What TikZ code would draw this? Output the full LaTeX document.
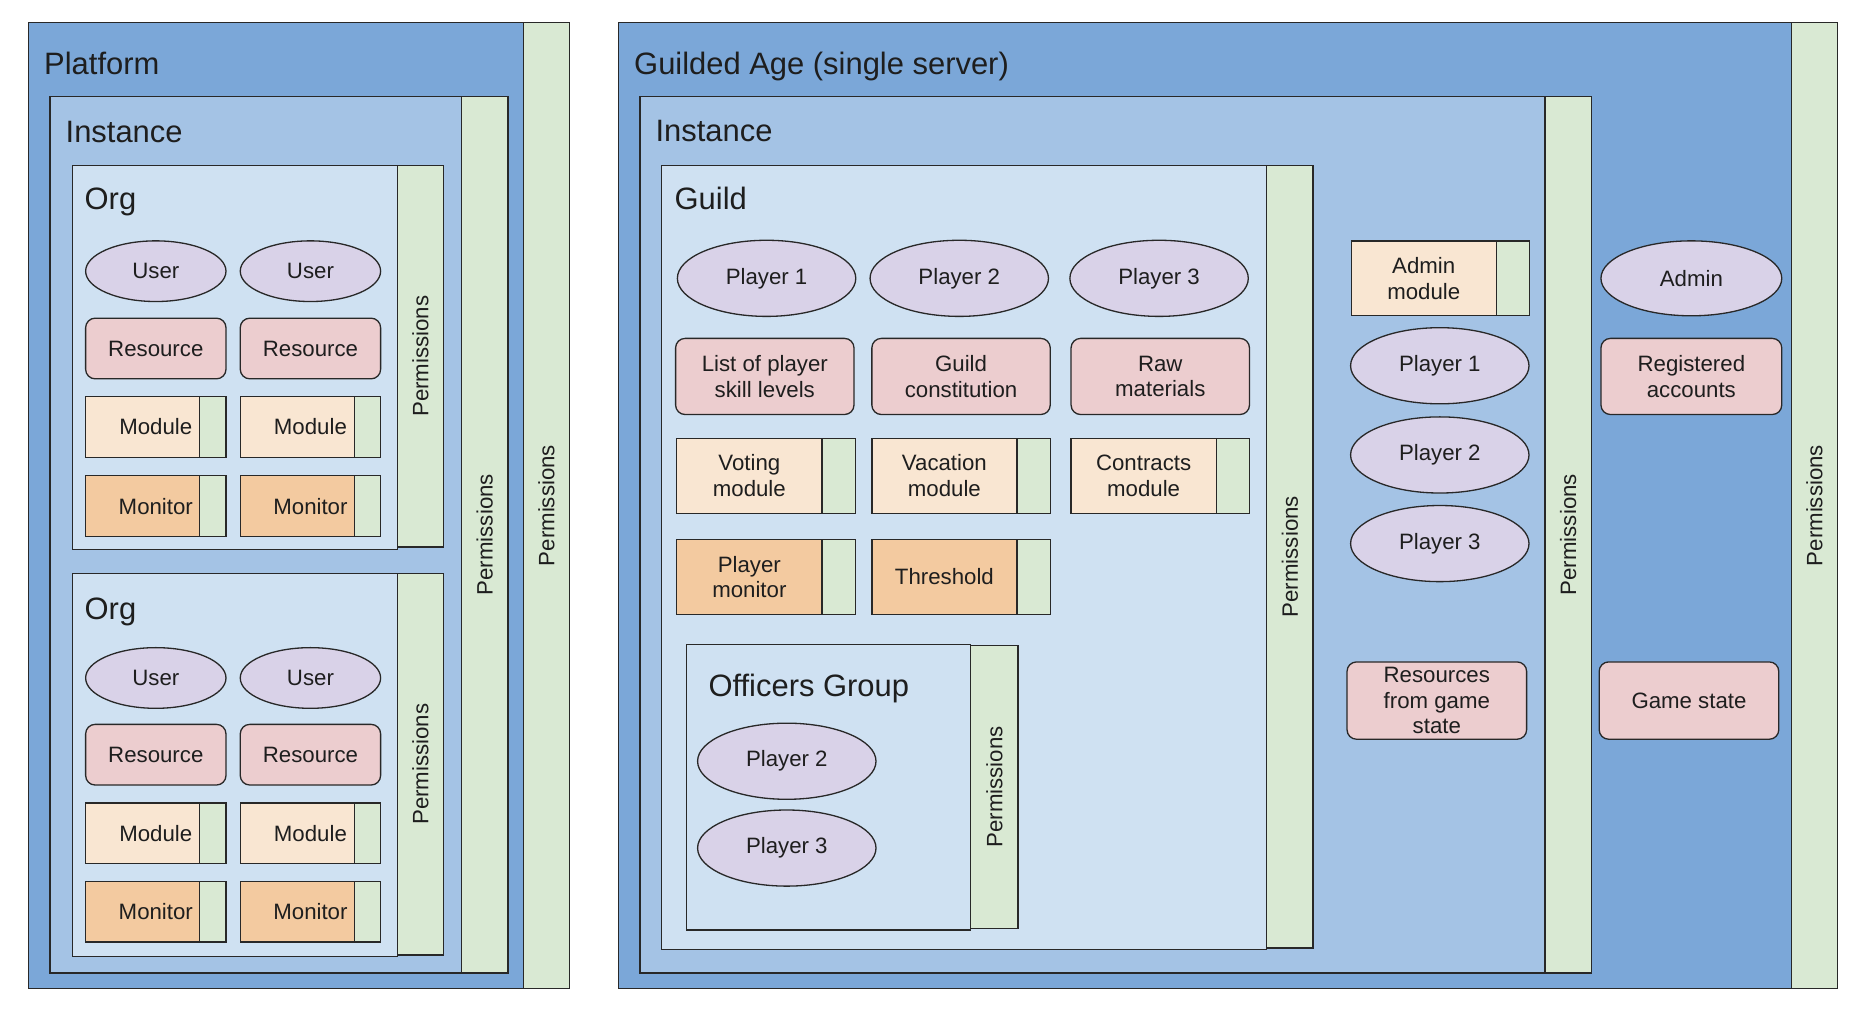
\documentclass[tikz,border=0pt]{standalone}
\usepackage{fontspec}
\setmainfont{Liberation Sans}
\usetikzlibrary{positioning}
\usetikzlibrary{shapes.geometric}
\definecolor{platblue}{RGB}{123,167,216}
\definecolor{instblue}{RGB}{164,195,229}
\definecolor{orgblue}{RGB}{207,225,242}
\definecolor{permgreen}{RGB}{217,233,211}
\definecolor{userpurple}{RGB}{217,210,232}
\definecolor{respink}{RGB}{236,205,207}
\definecolor{modcream}{RGB}{249,230,210}
\definecolor{monorange}{RGB}{243,202,160}
\definecolor{edge}{RGB}{40,40,40}
\definecolor{ink}{RGB}{30,30,30}
\tikzset{
  box/.style={draw=edge, line width=1.1pt, inner sep=0pt, outer sep=0pt, text=ink, align=center, font=\fontsize{18.7}{21.5}\selectfont},
  area/.style={box, anchor=north west},
  perms/.style={box, fill=permgreen, rotate=90, minimum height=39pt},
  heading/.style={inner sep=0pt, text=ink, anchor=base west, font=\fontsize{26}{30}\selectfont},
  user/.style={box, ellipse, fill=userpurple},
  resource/.style={box, rounded corners=8pt, fill=respink},
  module/.style={box, fill=modcream},
  monitor/.style={box, fill=monorange},
  modstrip/.style={box, fill=permgreen},
  small/.style={minimum width=118pt, minimum height=51pt},
  large/.style={minimum width=150pt, minimum height=64pt},
  half/.style={minimum width=122pt, minimum height=63pt},
  tab/.style={minimum width=28pt, minimum height=63pt}
}
\begin{document}
\begin{tikzpicture}[x=1pt, y=-1pt]
\fill[white] (0,0) rectangle (1568,852);
\useasboundingbox (0,0) rectangle (1568,852);

\node[area, fill=platblue, minimum width=416pt, minimum height=812pt] (platform) at (24,19) {};
\node[perms, minimum width=812pt] (platperm) at (459.5,425) {Permissions};
\node[heading] (plattitle) at (37,63) {Platform};
\node[area, fill=instblue, minimum width=346pt, minimum height=737pt] (inst1) at (42,81) {};
\node[perms, minimum width=737pt] (inst1perm) at (407.5,449.5) {Permissions};
\node[heading] (inst1title) at (55,120) {Instance};

\node[area, fill=orgblue, minimum width=273pt, minimum height=323pt] (org1) at (61,139) {};
\node[perms, minimum width=321pt] (org1perm) at (353.5,299.5) {Permissions};
\node[heading] (org1title) at (71,176) {Org};
\node[user, small] (o1user1) at (131,228) {User};
\node[user, small] (o1user2) at (261,228) {User};
\node[resource, small] (o1res1) at (131,293) {Resource};
\node[resource, small] (o1res2) at (261,293) {Resource};
\node[module, small] (o1mod1) at (131,359) {Module};
\node[modstrip, minimum width=22pt, minimum height=51pt, anchor=east] (o1mod1perm) at (o1mod1.east) {};
\node[module, small] (o1mod2) at (261,359) {Module};
\node[modstrip, minimum width=22pt, minimum height=51pt, anchor=east] (o1mod2perm) at (o1mod2.east) {};
\node[monitor, small] (o1mon1) at (131,425.5) {Monitor};
\node[modstrip, minimum width=22pt, minimum height=51pt, anchor=east] (o1mon1perm) at (o1mon1.east) {};
\node[monitor, small] (o1mon2) at (261,425.5) {Monitor};
\node[modstrip, minimum width=22pt, minimum height=51pt, anchor=east] (o1mon2perm) at (o1mon2.east) {};

\node[area, fill=orgblue, minimum width=273pt, minimum height=322pt] (org2) at (61,482) {};
\node[perms, minimum width=321pt] (org2perm) at (353.5,642.5) {Permissions};
\node[heading] (org2title) at (71,521) {Org};
\node[user, small] (o2user1) at (131,570) {User};
\node[user, small] (o2user2) at (261,570) {User};
\node[resource, small] (o2res1) at (131,634.5) {Resource};
\node[resource, small] (o2res2) at (261,634.5) {Resource};
\node[module, small] (o2mod1) at (131,700.5) {Module};
\node[modstrip, minimum width=22pt, minimum height=51pt, anchor=east] (o2mod1perm) at (o2mod1.east) {};
\node[module, small] (o2mod2) at (261,700.5) {Module};
\node[modstrip, minimum width=22pt, minimum height=51pt, anchor=east] (o2mod2perm) at (o2mod2.east) {};
\node[monitor, small] (o2mon1) at (131,766.5) {Monitor};
\node[modstrip, minimum width=22pt, minimum height=51pt, anchor=east] (o2mon1perm) at (o2mon1.east) {};
\node[monitor, small] (o2mon2) at (261,766.5) {Monitor};
\node[modstrip, minimum width=22pt, minimum height=51pt, anchor=east] (o2mon2perm) at (o2mon2.east) {};

\node[area, fill=platblue, minimum width=986pt, minimum height=812pt] (guilded) at (520,19) {};
\node[perms, minimum width=812pt] (guildedperm) at (1525.5,425) {Permissions};
\node[heading] (guildedtitle) at (533,62.5) {Guilded Age (single server)};
\node[area, fill=instblue, minimum width=761pt, minimum height=737pt] (inst2) at (538,81) {};
\node[perms, minimum width=737pt] (inst2perm) at (1318.5,449.5) {Permissions};
\node[heading] (inst2title) at (551,119) {Instance};

\node[area, fill=orgblue, minimum width=509pt, minimum height=659pt] (guild) at (556,139) {};
\node[perms, minimum width=658pt] (guildperm) at (1084.5,468) {Permissions};
\node[heading] (guildtitle) at (567,176) {Guild};
\node[user, large] (gplayer1) at (644.5,234) {Player 1};
\node[user, large] (gplayer2) at (806.5,234) {Player 2};
\node[user, large] (gplayer3) at (974.5,234) {Player 3};
\node[resource, large] (skills) at (643,316.5) {List of player\\skill levels};
\node[resource, large] (constitution) at (808,316.5) {Guild\\constitution};
\node[resource, large] (materials) at (975.5,316.5) {Raw\\materials};
\node[module, half] (voting) at (630,400) {Voting\\module};
\node[modstrip, tab, right=0pt of voting] (votingperm) {};
\node[module, half] (vacation) at (794,400) {Vacation\\module};
\node[modstrip, tab, right=0pt of vacation] (vacationperm) {};
\node[module, half] (contracts) at (961.5,400) {Contracts\\module};
\node[modstrip, tab, right=0pt of contracts] (contractsperm) {};
\node[monitor, half] (playermon) at (630,485) {Player\\monitor};
\node[modstrip, tab, right=0pt of playermon] (playermonperm) {};
\node[monitor, half] (threshold) at (794,485) {Threshold};
\node[modstrip, tab, right=0pt of threshold] (thresholdperm) {};

\node[area, fill=orgblue, minimum width=239pt, minimum height=240pt] (officers) at (577,542) {};
\node[perms, minimum width=238pt, minimum height=40pt] (officersperm) at (836,661.5) {Permissions};
\node[heading] (officerstitle) at (595.5,585.5) {Officers Group};
\node[user, large] (oplayer2) at (661.5,640) {Player 2};
\node[user, large] (oplayer3) at (661.5,713) {Player 3};

\node[module, half] (adminmod) at (1197,234) {Admin\\module};
\node[modstrip, tab, right=0pt of adminmod] (adminmodperm) {};
\node[user, large] (iplayer1) at (1210.5,307.5) {Player 1};
\node[user, large] (iplayer2) at (1210.5,382.5) {Player 2};
\node[user, large] (iplayer3) at (1210.5,457) {Player 3};
\node[resource, minimum width=151pt, minimum height=65pt, text depth=0pt] (gameres) at (1208,589) {Resources\\from game\\state};

\node[user, minimum width=152pt, minimum height=63pt] (admin) at (1422,234) {Admin};
\node[resource, minimum width=152pt, minimum height=64pt] (accounts) at (1422,316.5) {Registered\\accounts};
\node[resource, minimum width=151pt, minimum height=65pt] (gamestate) at (1420,589) {Game state};
\end{tikzpicture}
\end{document}
